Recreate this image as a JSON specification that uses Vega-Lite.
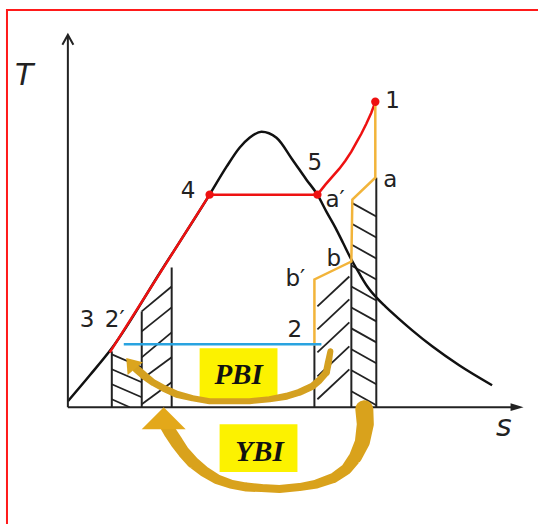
{
  "$schema": "https://vega.github.io/schema/vega-lite/v6.json",
  "width": 539,
  "height": 525,
  "autosize": {"type": "fit", "contains": "padding"},
  "padding": 0,
  "background": "white",
  "config": {"view": {"stroke": null}},
  "datasets": {
    "frame": [
      {"s": -61, "T": 399, "s2": -61, "T2": -117},
      {"s": -62, "T": 398, "s2": 471, "T2": 398}
    ],
    "axes": [
      {"s": 0, "T": 0, "s2": 0, "T2": 372},
      {"s": 0, "T": 0, "s2": 450, "T2": 0}
    ],
    "ytip": [{"s": 0, "T": 373}],
    "xtip": [{"s": 450, "T": 0}],
    "verticals": [
      {"s": 44, "T": 0, "s2": 44, "T2": 56},
      {"s": 74, "T": 0, "s2": 74, "T2": 96},
      {"s": 104, "T": 0, "s2": 104, "T2": 140},
      {"s": 247, "T": 0, "s2": 247, "T2": 62},
      {"s": 284, "T": 0, "s2": 284, "T2": 146},
      {"s": 309, "T": 0, "s2": 309, "T2": 230}
    ],
    "hatch": [
      {"s": 44, "T": 53, "s2": 74, "T2": 40},
      {"s": 44, "T": 38, "s2": 74, "T2": 25},
      {"s": 44, "T": 23, "s2": 74, "T2": 10},
      {"s": 44, "T": 8, "s2": 62, "T2": 0},
      {"s": 74, "T": 3, "s2": 104, "T2": 25},
      {"s": 74, "T": 28, "s2": 104, "T2": 50},
      {"s": 74, "T": 50, "s2": 104, "T2": 75},
      {"s": 74, "T": 76, "s2": 104, "T2": 100},
      {"s": 74, "T": 96, "s2": 104, "T2": 121},
      {"s": 250, "T": 8, "s2": 282, "T2": 38},
      {"s": 250, "T": 31, "s2": 282, "T2": 61},
      {"s": 250, "T": 55, "s2": 282, "T2": 85},
      {"s": 250, "T": 78, "s2": 282, "T2": 108},
      {"s": 250, "T": 101, "s2": 282, "T2": 131},
      {"s": 284, "T": 205, "s2": 309, "T2": 191},
      {"s": 284, "T": 184, "s2": 309, "T2": 170},
      {"s": 284, "T": 163, "s2": 309, "T2": 149},
      {"s": 284, "T": 142, "s2": 309, "T2": 128},
      {"s": 284, "T": 121, "s2": 309, "T2": 107},
      {"s": 284, "T": 100, "s2": 309, "T2": 86},
      {"s": 284, "T": 79, "s2": 309, "T2": 65},
      {"s": 284, "T": 58, "s2": 309, "T2": 44},
      {"s": 284, "T": 37, "s2": 309, "T2": 23},
      {"s": 284, "T": 16, "s2": 309, "T2": 2}
    ],
    "dome": [
      {"i": 0, "s": 0, "T": 6},
      {"i": 1, "s": 22, "T": 32},
      {"i": 2, "s": 44, "T": 59},
      {"i": 3, "s": 93, "T": 136},
      {"i": 4, "s": 142, "T": 213},
      {"i": 5, "s": 159, "T": 241},
      {"i": 6, "s": 172, "T": 260},
      {"i": 7, "s": 182, "T": 270},
      {"i": 8, "s": 194, "T": 276},
      {"i": 9, "s": 209, "T": 270},
      {"i": 10, "s": 225, "T": 248},
      {"i": 11, "s": 239, "T": 228},
      {"i": 12, "s": 250, "T": 213},
      {"i": 13, "s": 259, "T": 196},
      {"i": 14, "s": 268, "T": 180},
      {"i": 15, "s": 276, "T": 164},
      {"i": 16, "s": 284, "T": 148},
      {"i": 17, "s": 292, "T": 134},
      {"i": 18, "s": 300, "T": 121},
      {"i": 19, "s": 309, "T": 110},
      {"i": 20, "s": 318, "T": 101},
      {"i": 21, "s": 330, "T": 90},
      {"i": 22, "s": 345, "T": 77},
      {"i": 23, "s": 365, "T": 61},
      {"i": 24, "s": 392, "T": 42},
      {"i": 25, "s": 425, "T": 22}
    ],
    "redline": [
      {"i": 0, "s": 42, "T": 55},
      {"i": 1, "s": 142, "T": 213},
      {"i": 2, "s": 250, "T": 213},
      {"i": 3, "s": 258, "T": 223},
      {"i": 4, "s": 265, "T": 231},
      {"i": 5, "s": 272, "T": 239},
      {"i": 6, "s": 278, "T": 247},
      {"i": 7, "s": 284, "T": 256},
      {"i": 8, "s": 289, "T": 265},
      {"i": 9, "s": 294, "T": 274},
      {"i": 10, "s": 299, "T": 284},
      {"i": 11, "s": 304, "T": 295},
      {"i": 12, "s": 308, "T": 306}
    ],
    "expansion": [
      {"i": 0, "s": 308, "T": 306},
      {"i": 1, "s": 308, "T": 230},
      {"i": 2, "s": 285, "T": 208},
      {"i": 3, "s": 284, "T": 146},
      {"i": 4, "s": 247, "T": 128},
      {"i": 5, "s": 247, "T": 62}
    ],
    "blue": [{"s": 56, "T": 63, "s2": 254, "T2": 63}],
    "dots": [
      {"s": 142, "T": 213},
      {"s": 250, "T": 213},
      {"s": 308, "T": 306}
    ],
    "boxes": [
      {"s": 132, "T": 8, "s2": 210, "T2": 59},
      {"s": 152, "T": -65, "s2": 230, "T2": -17}
    ],
    "pbi": [
      {"i": 0, "s": 263, "T": 56, "w": 6},
      {"i": 1, "s": 261, "T": 45, "w": 7},
      {"i": 2, "s": 259, "T": 35, "w": 7},
      {"i": 3, "s": 252, "T": 27, "w": 7},
      {"i": 4, "s": 245, "T": 21, "w": 7},
      {"i": 5, "s": 232, "T": 15, "w": 7},
      {"i": 6, "s": 219, "T": 11, "w": 7},
      {"i": 7, "s": 202, "T": 8, "w": 6},
      {"i": 8, "s": 182, "T": 6, "w": 6},
      {"i": 9, "s": 162, "T": 6, "w": 6},
      {"i": 10, "s": 142, "T": 6, "w": 6},
      {"i": 11, "s": 125, "T": 9, "w": 6},
      {"i": 12, "s": 109, "T": 13, "w": 7},
      {"i": 13, "s": 96, "T": 19, "w": 7},
      {"i": 14, "s": 85, "T": 25, "w": 7},
      {"i": 15, "s": 76, "T": 32, "w": 8},
      {"i": 16, "s": 69, "T": 38, "w": 8}
    ],
    "ybi": [
      {"i": 0, "s": 297, "T": -2, "w": 18},
      {"i": 1, "s": 298, "T": -17, "w": 17},
      {"i": 2, "s": 295, "T": -35, "w": 15},
      {"i": 3, "s": 288, "T": -50, "w": 13},
      {"i": 4, "s": 279, "T": -62, "w": 11},
      {"i": 5, "s": 266, "T": -71, "w": 10},
      {"i": 6, "s": 249, "T": -77, "w": 9},
      {"i": 7, "s": 232, "T": -80, "w": 8},
      {"i": 8, "s": 212, "T": -82, "w": 8},
      {"i": 9, "s": 194, "T": -81, "w": 8},
      {"i": 10, "s": 179, "T": -80, "w": 9},
      {"i": 11, "s": 163, "T": -77, "w": 9},
      {"i": 12, "s": 149, "T": -72, "w": 10},
      {"i": 13, "s": 136, "T": -64, "w": 11},
      {"i": 14, "s": 125, "T": -55, "w": 12},
      {"i": 15, "s": 116, "T": -45, "w": 12},
      {"i": 16, "s": 109, "T": -35, "w": 13},
      {"i": 17, "s": 103, "T": -26, "w": 13},
      {"i": 18, "s": 99, "T": -19, "w": 13}
    ],
    "pbihead": [{"s": 63, "T": 44}],
    "ybihead": [{"s": 96, "T": -11}],
    "labels": [
      {"s": 318, "T": 300, "label": "1"},
      {"s": 240, "T": 238, "label": "5"},
      {"s": 113, "T": 210, "label": "4"},
      {"s": 316, "T": 221, "label": "a"},
      {"s": 258, "T": 201, "label": "a′"},
      {"s": 259, "T": 141, "label": "b"},
      {"s": 218, "T": 121, "label": "b′"},
      {"s": 220, "T": 70, "label": "2"},
      {"s": 12, "T": 80, "label": "3"},
      {"s": 37, "T": 80, "label": "2′"}
    ],
    "boxtext": [
      {"s": 171, "T": 23, "label": "PBI"},
      {"s": 192, "T": -54, "label": "YBI"}
    ],
    "axislabels": [
      {"s": -53, "T": 323, "label": "T"},
      {"s": 429, "T": -29, "label": "s"}
    ]
  },
  "encoding": {
    "x": {"field": "s", "type": "quantitative", "scale": {"domain": [-68, 471], "nice": false, "zero": false}, "axis": null},
    "y": {"field": "T", "type": "quantitative", "scale": {"domain": [-117, 408], "nice": false, "zero": false}, "axis": null}
  },
  "layer": [
    {"data": {"name": "frame"}, "mark": {"type": "rule", "color": "#ff1a1a", "strokeWidth": 2}, "encoding": {"x2": {"field": "s2"}, "y2": {"field": "T2"}}},
    {"data": {"name": "verticals"}, "mark": {"type": "rule", "color": "#222222", "strokeWidth": 2}, "encoding": {"x2": {"field": "s2"}, "y2": {"field": "T2"}}},
    {"data": {"name": "hatch"}, "mark": {"type": "rule", "color": "#222222", "strokeWidth": 1.8}, "encoding": {"x2": {"field": "s2"}, "y2": {"field": "T2"}}},
    {"data": {"name": "dome"}, "mark": {"type": "line", "color": "#111111", "strokeWidth": 2.5, "interpolate": "monotone"}, "encoding": {"order": {"field": "i"}}},
    {"data": {"name": "axes"}, "mark": {"type": "rule", "color": "#222222", "strokeWidth": 2}, "encoding": {"x2": {"field": "s2"}, "y2": {"field": "T2"}}},
    {"data": {"name": "ytip"}, "mark": {"type": "point", "shape": "M-0.5,0.9L0,0L0.5,0.9", "size": 484, "filled": false, "color": "#222222", "strokeWidth": 2, "opacity": 1}},
    {"data": {"name": "xtip"}, "mark": {"type": "point", "shape": "M-1,-0.6L1,0L-1,0.6Z", "size": 169, "filled": true, "color": "#222222", "opacity": 1}},
    {"data": {"name": "redline"}, "mark": {"type": "line", "color": "#ee1111", "strokeWidth": 2.5}, "encoding": {"order": {"field": "i"}}},
    {"data": {"name": "expansion"}, "mark": {"type": "line", "color": "#f2b43a", "strokeWidth": 2.5}, "encoding": {"order": {"field": "i"}}},
    {"data": {"name": "blue"}, "mark": {"type": "rule", "color": "#29a3e0", "strokeWidth": 2.5}, "encoding": {"x2": {"field": "s2"}, "y2": {"field": "T2"}}},
    {"data": {"name": "dots"}, "mark": {"type": "circle", "color": "#ee1111", "size": 70, "opacity": 1}},
    {"data": {"name": "boxes"}, "mark": {"type": "rect", "color": "#fcf200"}, "encoding": {"x2": {"field": "s2"}, "y2": {"field": "T2"}}},
    {"data": {"name": "pbi"}, "mark": {"type": "trail", "color": "#d4a020"}, "encoding": {"size": {"field": "w", "type": "quantitative", "scale": null}, "order": {"field": "i"}}},
    {"data": {"name": "ybi"}, "mark": {"type": "trail", "color": "#d9a21c"}, "encoding": {"size": {"field": "w", "type": "quantitative", "scale": null}, "order": {"field": "i"}}},
    {"data": {"name": "pbihead"}, "mark": {"type": "point", "shape": "M-1,0.7L0,-0.7L1,0.7Z", "size": 400, "filled": true, "color": "#dba51e", "angle": -40, "opacity": 1}},
    {"data": {"name": "ybihead"}, "mark": {"type": "point", "shape": "M-1,0.5L0,-0.5L1,0.5Z", "size": 1936, "filled": true, "color": "#e3a81a", "opacity": 1}},
    {"data": {"name": "labels"}, "mark": {"type": "text", "align": "left", "baseline": "alphabetic", "font": "DejaVu Sans", "fontSize": 23, "color": "#222222"}, "encoding": {"text": {"field": "label"}}},
    {"data": {"name": "boxtext"}, "mark": {"type": "text", "align": "center", "baseline": "alphabetic", "font": "Liberation Serif", "fontSize": 29, "fontWeight": "bold", "fontStyle": "italic", "color": "#111111"}, "encoding": {"text": {"field": "label"}}},
    {"data": {"name": "axislabels"}, "mark": {"type": "text", "align": "left", "baseline": "alphabetic", "font": "DejaVu Sans", "fontSize": 30, "fontStyle": "italic", "color": "#222222"}, "encoding": {"text": {"field": "label"}}}
  ]
}
